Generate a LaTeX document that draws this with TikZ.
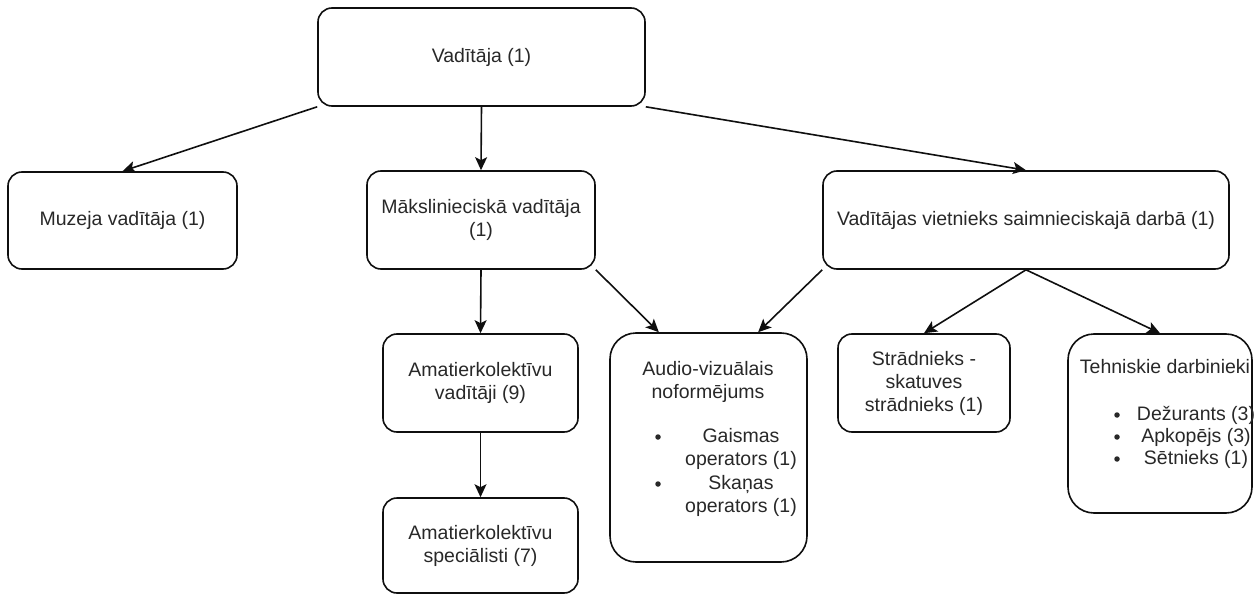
\documentclass[tikz,border=0pt]{standalone}
\usepackage{fontspec}
\setmainfont{Liberation Sans}
\usetikzlibrary{arrows.meta,calc}

\definecolor{inkline}{RGB}{15,15,15}
\definecolor{inktext}{RGB}{40,40,40}

\tikzset{
  orgbox/.style={draw=inkline, line width=1.6pt, rounded corners=14pt,
    inner sep=0pt, align=center, text=inktext,
    font=\fontsize{19.5}{23}\selectfont},
  tallbox/.style={orgbox, rounded corners=26pt},
  txt/.style={inner sep=0pt, text=inktext, align=center,
    font=\fontsize{19.5}{23}\selectfont},
  dot/.style={circle, fill=inktext, inner sep=0pt, minimum size=5.5pt},
  link/.style={draw=inkline, line width=1.6pt,
    -{Stealth[length=13pt,width=12pt,inset=3pt]}}
}

\begin{document}
\begin{tikzpicture}[x=1pt,y=-1pt]
\useasboundingbox (0,0) rectangle (1254,594);

% boxes
\node[orgbox, minimum width=327pt, minimum height=98pt] (top) at (481.5,57) {Vadītāja (1)};
\node[orgbox, minimum width=229pt, minimum height=97pt] (muz) at (122.5,220.5) {Muzeja vadītāja (1)};
\node[orgbox, minimum width=228pt, minimum height=98pt] (mak) at (481,220) {Mākslinieciskā vadītāja\\(1)};
\node[orgbox, minimum width=406pt, minimum height=98pt] (vie) at (1026,220) {Vadītājas vietnieks saimnieciskajā darbā (1)};
\node[orgbox, minimum width=195pt, minimum height=98pt] (amv) at (480.5,383) {Amatierkolektīvu\\vadītāji (9)};
\node[orgbox, minimum width=195pt, minimum height=95pt] (ams) at (480.5,545.5) {Amatierkolektīvu\\speciālisti (7)};
\node[tallbox, minimum width=197pt, minimum height=229pt] (aud) at (708.5,447.5) {};
\node[orgbox, minimum width=172pt, minimum height=98pt] (str) at (924,383) {Strādnieks -\\skatuves\\strādnieks (1)};
\node[tallbox, minimum width=184pt, minimum height=179pt] (teh) at (1160,423.5) {};

% contents of the audio-visual box
\node[txt] (audt) at (708,382) {Audio-vizuālais\\noformējums};
\node[dot] (audb1) at (658,437) {};
\node[txt] (audi1) at (741,449) {Gaismas\\operators (1)};
\node[dot] (audb2) at (658,484) {};
\node[txt] (audi2) at (741,496) {Skaņas\\operators (1)};

% contents of the technical staff box
\node[txt] (teht) at (1165,367) {Tehniskie darbinieki};
\node[dot] (tehb1) at (1117,415) {};
\node[txt] (tehi1) at (1196,415) {Dežurants (3)};
\node[dot] (tehb2) at (1117,437) {};
\node[txt] (tehi2) at (1196,437) {Apkopējs (3)};
\node[dot] (tehb3) at (1117,459) {};
\node[txt] (tehi3) at (1196,459) {Sētnieks (1)};

% connectors
\draw[link] (top.south west) -- (muz.north);
\draw[link] (top.south) -- (mak.north);
\draw[link] (top.south east) -- (vie.north);
\draw[link] (mak.south) -- (amv.north);
\draw[link] (amv.south) -- (ams.north);
\draw[link] (mak.south east) -- ($(aud.north west)!0.25!(aud.north east)$);
\draw[link] (vie.south west) -- ($(aud.north west)!0.75!(aud.north east)$);
\draw[link] (vie.south) -- (str.north);
\draw[link] (vie.south) -- (teh.north);
\end{tikzpicture}
\end{document}
